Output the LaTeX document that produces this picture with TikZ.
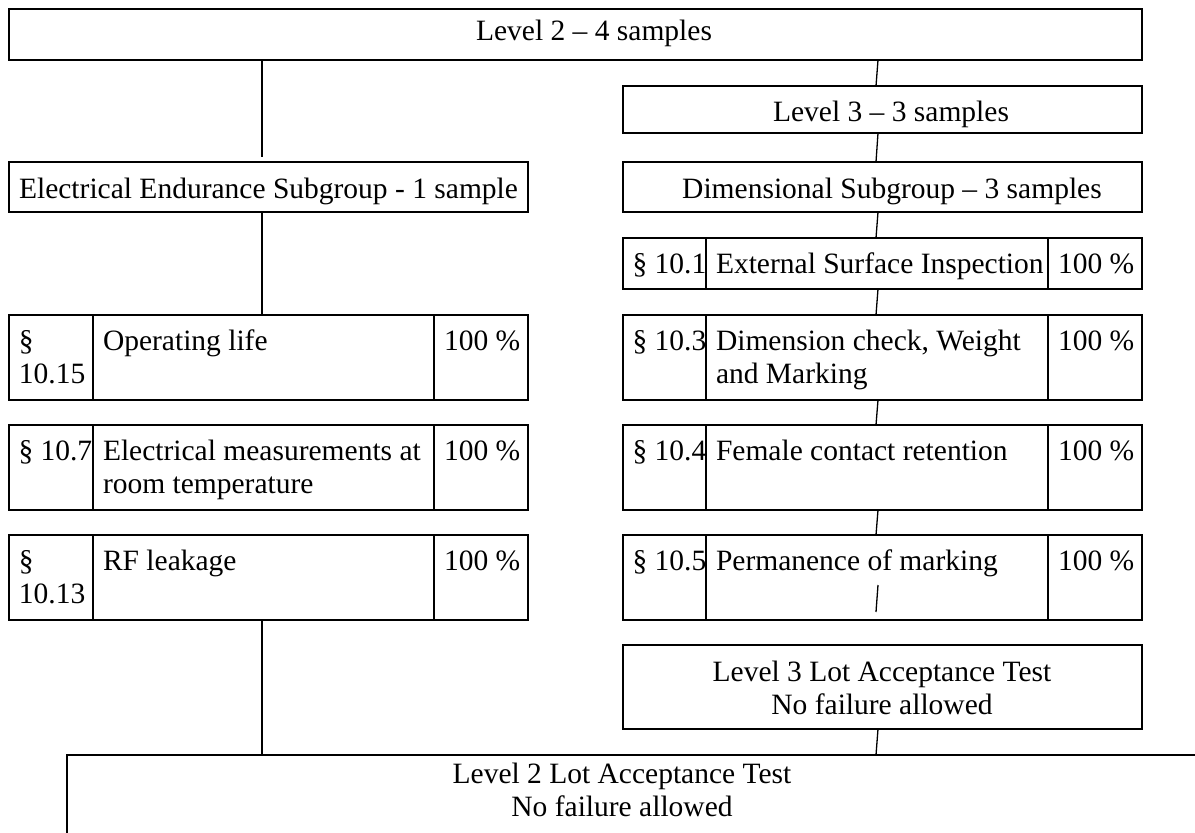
\documentclass[tikz,border=0pt]{standalone}
\usepackage{fontspec}
\setmainfont{Liberation Serif}
\usetikzlibrary{calc}
\newcommand\fs{\fontsize{29.5}{33}\selectfont}
\newcommand\stt{\rule{0pt}{26pt}}
\tikzset{
  boxst/.style={draw, line width=2pt, inner sep=0pt, outer sep=0pt},
  tx/.style={inner sep=0pt, outer sep=0pt, font=\fs},
  cellt/.style={tx, anchor=north west, align=left},
  ctr/.style={tx, anchor=north, align=center},
  conn/.style={line width=1.3pt},
  colline/.style={line width=1.6pt}
}
\newcommand\mkbox[5]{\node[boxst, minimum width=#4pt, minimum height=#5pt, anchor=north west] (#1) at (#2,#3) {};}
\begin{document}
\begin{tikzpicture}[x=1pt,y=-1pt]
\useasboundingbox (0,0) rectangle (1195,833);
\clip (0,0) rectangle (1195,833);
% column x references
\coordinate (cL) at (262,0);
\coordinate (cR) at (877,0);
\coordinate (L1) at (93,0);
\coordinate (L2) at (434,0);
\coordinate (R1) at (706,0);
\coordinate (R2) at (1048,0);
% boxes
\mkbox{top}{9}{9}{1133}{51}
\mkbox{lv3}{623}{86}{519}{47}
\mkbox{elec}{9}{162}{519}{50}
\mkbox{dim}{623}{162}{519}{50}
\mkbox{t101}{623}{238}{519}{51}
\mkbox{op}{9}{315}{519}{85}
\mkbox{t103}{623}{315}{519}{85}
\mkbox{em}{9}{425}{519}{85}
\mkbox{t104}{623}{425}{519}{85}
\mkbox{rf}{9}{535}{519}{85}
\mkbox{t105}{623}{535}{519}{85}
\mkbox{lat3}{623}{645}{519}{84}
\mkbox{bot}{67}{755}{1250}{200}
% column separators
\foreach \t in {op,em,rf}{
  \draw[colline] (\t.north -| L1) -- (\t.south -| L1);
  \draw[colline] (\t.north -| L2) -- (\t.south -| L2);
}
\foreach \t in {t101,t103,t104,t105}{
  \draw[colline] (\t.north -| R1) -- (\t.south -| R1);
  \draw[colline] (\t.north -| R2) -- (\t.south -| R2);
}
% single-line titles
\node[tx, anchor=base] (toptx) at (594,40) {Level 2 – 4 samples};
\node[tx, anchor=base] (lv3tx) at (891,121) {Level 3 – 3 samples};
\node[tx, anchor=base] (electx) at (268.5,198) {Electrical Endurance Subgroup - 1 sample};
\node[tx, anchor=base] (dimtx) at (892,198) {Dimensional Subgroup – 3 samples};
% table texts right
\node[tx, anchor=base west] (a101) at (632.5,273) {§ 10.1};
\node[tx, anchor=base west] (b101) at (716,273) {External Surface Inspection};
\node[tx, anchor=base west] (c101) at (1058,273) {100 \%};
\node[cellt] (a103) at (632.5,324) {\stt§ 10.3};
\node[cellt] (b103) at (716,324) {\stt Dimension check, Weight\\and Marking};
\node[cellt] (c103) at (1058,324) {\stt 100 \%};
\node[cellt] (a104) at (632.5,434) {\stt§ 10.4};
\node[cellt] (b104) at (716,434) {\stt Female contact retention};
\node[cellt] (c104) at (1058,434) {\stt 100 \%};
\node[cellt] (a105) at (632.5,544) {\stt§ 10.5};
\node[cellt] (b105) at (716,544) {\stt Permanence of marking};
\node[cellt] (c105) at (1058,544) {\stt 100 \%};
% table texts left
\node[cellt] (aop) at (19,324) {\stt§\\10.15};
\node[cellt] (bop) at (103,324) {\stt Operating life};
\node[cellt] (cop) at (444,324) {\stt 100 \%};
\node[cellt] (aem) at (18.5,434) {\stt§ 10.7};
\node[cellt] (bem) at (103,434) {\stt Electrical measurements at\\room temperature};
\node[cellt] (cem) at (444,434) {\stt 100 \%};
\node[cellt] (arf) at (19,544) {\stt§\\10.13};
\node[cellt] (brf) at (103,544) {\stt RF leakage};
\node[cellt] (crf) at (444,544) {\stt 100 \%};
% two-line boxes
\node[ctr] (lat3tx) at (882,655) {\stt Level 3 Lot Acceptance Test\\No failure allowed};
\node[ctr] (bottx) at (622,757) {\stt Level 2 Lot Acceptance Test\\No failure allowed};
% connectors left
\draw[conn] (top.south -| cL) -- ($(elec.north -| cL)+(0,-5)$);
\draw[conn] (elec.south -| cL) -- (op.north -| cL);
\draw[conn] (rf.south -| cL) -- (bot.north -| cL);
% connectors right
\draw[conn] ($(top.south -| cR)+(1,0)$) -- ($(lv3.north -| cR)+(-1,0)$);
\draw[conn] ($(lv3.south -| cR)+(1,0)$) -- ($(dim.north -| cR)+(-1,0)$);
\draw[conn] ($(dim.south -| cR)+(1,0)$) -- ($(t101.north -| cR)+(-1,0)$);
\draw[conn] ($(t101.south -| cR)+(1,0)$) -- ($(t103.north -| cR)+(-1,0)$);
\draw[conn] ($(t103.south -| cR)+(1,0)$) -- ($(t104.north -| cR)+(-1,0)$);
\draw[conn] ($(t104.south -| cR)+(1,0)$) -- ($(t105.north -| cR)+(-1,0)$);
\coordinate (s1) at (878,585);
\coordinate (s2) at (876,612);
\draw[conn] (s1) -- (s2);
\draw[conn] ($(lat3.south -| cR)+(1,0)$) -- ($(bot.north -| cR)+(-1,0)$);
\end{tikzpicture}
\end{document}
